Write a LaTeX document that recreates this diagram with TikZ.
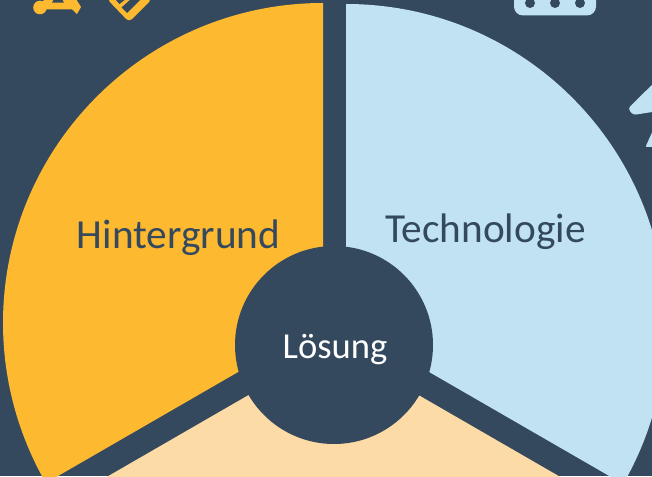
\documentclass[tikz,border=0pt]{standalone}
\usepackage{fontspec}
\setmainfont{Carlito}
\definecolor{bgc}{HTML}{34495E}
\definecolor{yel}{HTML}{FDB92F}
\definecolor{blu}{HTML}{C1E2F3}
\definecolor{pea}{HTML}{FDDBA6}
\tikzset{lab/.style={inner sep=0pt,font=\fontsize{41.3}{41.3}\selectfont,text=bgc,anchor=base}}
\begin{document}
\begin{tikzpicture}[x=1pt,y=-1pt]
\useasboundingbox (0,0) rectangle (652,476);
\fill[bgc] (0,0) rectangle (652,476);
\begin{scope}
\clip (0,0) rectangle (652,476);
% sectors
\fill[yel] (323,323) -- (323,3) arc[start angle=-90,delta angle=-120,radius=320] -- cycle;
\fill[blu] (346,324) -- (346,4) arc[start angle=-90,delta angle=120,radius=320] -- cycle;
\fill[pea] (333.5,346) -- ++(30:320) arc[start angle=30,delta angle=120,radius=320] -- cycle;
% icons
\fill[blu,rounded corners=9pt] (514,-20) rectangle (596,15.5);
\fill[bgc] (530,3) circle (5) (555,3) circle (5) (580,3) circle (5);
\fill[blu,rounded corners=3pt] (665,72) -- (628,108.5) -- (633,115) -- (665,110) -- cycle;
\fill[blu,rounded corners=1pt] (662,110) -- (645.5,147) -- (662,146.5) -- cycle;
\fill[yel] (40,7.5) circle (6.8);
\fill[yel] (40,3) -- (46,-1) -- (76,-1) -- (81,7) -- (77,14) -- (72,9.3) -- (40,9.3) -- cycle;
\fill[bgc] (52,2.7) -- (54,-1) -- (62,-1) -- (64,2.7) -- cycle;
\fill[yel,rounded corners=4pt] (107,-1) -- (129,22) -- (152,-1) -- cycle;
\fill[bgc] (115,-1) -- (126,-1) -- (119.5,4) -- cycle;
\fill[bgc] (131,-1) -- (141,-1) -- (127,13) -- (121.5,7.5) -- cycle;
\end{scope}
\node[circle,fill=bgc,minimum size=198pt,inner sep=0pt] (hub) at (334,345) {};
\node[lab] (h) at (178.5,248) {Hintergrund};
\node[lab] (t) at (485.5,242) {Technologie};
\node[lab,text=white,font=\fontsize{36.6}{36.6}\selectfont] (l) at (335,358.5) {Lösung};
\end{tikzpicture}
\end{document}
